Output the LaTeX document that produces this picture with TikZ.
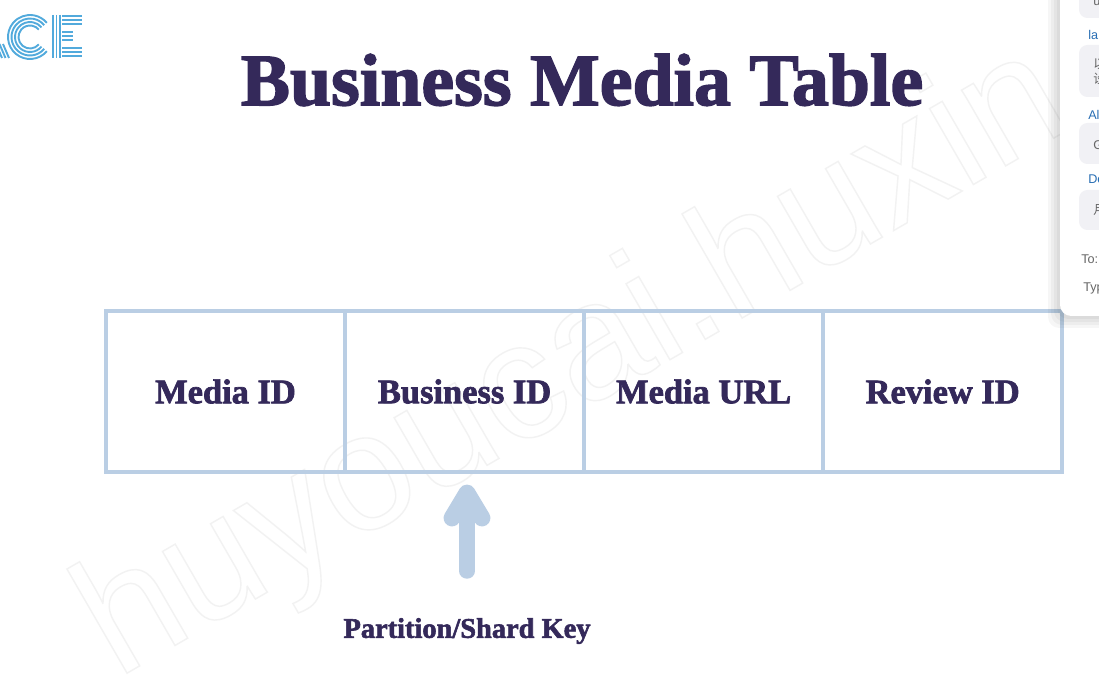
\documentclass[tikz,border=0pt]{standalone}
\usepackage{fontspec}
\setmainfont[BoldFeatures={FakeBold=2}]{Liberation Serif}
\newfontfamily\panelfont{Liberation Sans}
\newfontfamily\cjkfont{Noto Sans CJK SC}
\usetikzlibrary{arrows.meta,positioning}
\definecolor{titleink}{RGB}{52,41,90}
\definecolor{gridblue}{RGB}{186,206,228}
\definecolor{logoblue}{RGB}{82,170,220}
\definecolor{bubblegray}{RGB}{241,241,245}
\definecolor{namelink}{RGB}{40,110,180}
\newcommand{\outlinetext}[1]{\special{pdf:code q 1 Tr 1 w 0.95 0.95 0.95 RG}#1\special{pdf:code Q}}
\tikzset{cell/.style={draw=gridblue,line width=2.85pt,minimum width=5.975cm,minimum height=4.025cm,outer sep=0pt,inner sep=0pt,text=titleink,font=\fontsize{24.5}{28}\selectfont\bfseries},bubble/.style={fill=bubblegray,rounded corners=6pt},logoline/.style={draw=logoblue,line width=1.35pt},sender/.style={text=namelink,font=\panelfont\fontsize{9}{10}\selectfont,anchor=west,inner sep=0pt},chatline/.style={text=black!60,font=\panelfont\fontsize{9}{10}\selectfont,anchor=west,inner sep=0pt}}
\begin{document}
\begin{tikzpicture}[x=0.025cm,y=-0.025cm]
\useasboundingbox (0,0) rectangle (1099,675);
\clip (0,0) rectangle (1099,675);
\fill[white] (0,0) rectangle (1099,675);
% logo
\foreach \r in {22,18.5,15,11.5}
  \draw[logoline] (30,37) ++(40:\r) arc[start angle=40,end angle=320,radius=\r];
\foreach \y in {16,20,24,48,52,56}
  \draw[logoline] (62,\y)--(82,\y);
\foreach \y in {32,36,40}
  \draw[logoline] (62,\y)--(73,\y);
\foreach \x in {53,56.5,60}
  \draw[logoline] (\x,15)--(\x,58);
\foreach \k in {-4,-0.5,3}
  \draw[logoline] (\k,44)--(\k+6,58);
% watermark
\node[rotate=30,font=\panelfont\fontsize{118}{118}\selectfont] (mark) at (575,365) {\outlinetext{huyoucai.huxin}};
% title
\node[text=titleink,font=\fontsize{52.5}{60}\selectfont\bfseries] (title) at (582,80) {Business Media Table};
% table
\node[cell] (mediaid) at (225.5,391.5) {Media ID};
\node[cell,right=0pt of mediaid] (businessid) {Business ID};
\node[cell,right=0pt of businessid] (mediaurl) {Media URL};
\node[cell,right=0pt of mediaurl] (reviewid) {Review ID};
% shard key
\node[text=titleink,font=\fontsize{20.2}{24}\selectfont\bfseries] (keylabel) at (467,631) {Partition/Shard Key};
\coordinate (keytail) at (467,571);
\coordinate (keytip) at (467,493);
\draw[gridblue,line width=11pt,line cap=round,line join=round] (keytail)--(keytip);
\draw[gridblue,line width=12pt,line cap=round,line join=round] (452,518)--(keytip)--(482,518);
% chat panel
\foreach \g in {12,9,6,3}
  \fill[black,opacity=0.035,rounded corners=8pt] (1060-\g,-20) rectangle (1130,316+\g);
\fill[white,rounded corners=8pt] (1060,-20) rectangle (1130,316);
\fill[bubble] (1079,-20) rectangle (1130,18);
\fill[bubble] (1079,45) rectangle (1130,97);
\fill[bubble] (1079,123) rectangle (1130,164);
\fill[bubble] (1079,190) rectangle (1130,230);
\node[chatline] (msgu) at (1093,2) {u};
\node[sender] (namela) at (1088,35) {la};
\node[chatline,font=\cjkfont\fontsize{9}{10}\selectfont] (msgone) at (1093,64) {以};
\node[chatline,font=\cjkfont\fontsize{9}{10}\selectfont] (msgtwo) at (1093,79) {设};
\node[sender] (nameal) at (1088,115) {Al};
\node[chatline] (msgg) at (1093,145) {G};
\node[sender] (namede) at (1088,179) {De};
\node[chatline,font=\cjkfont\fontsize{9}{10}\selectfont] (msgm) at (1093,210) {月};
\node[chatline] (toline) at (1081,259) {To:};
\node[chatline] (typeline) at (1083,288) {Typ};
\end{tikzpicture}
\end{document}
